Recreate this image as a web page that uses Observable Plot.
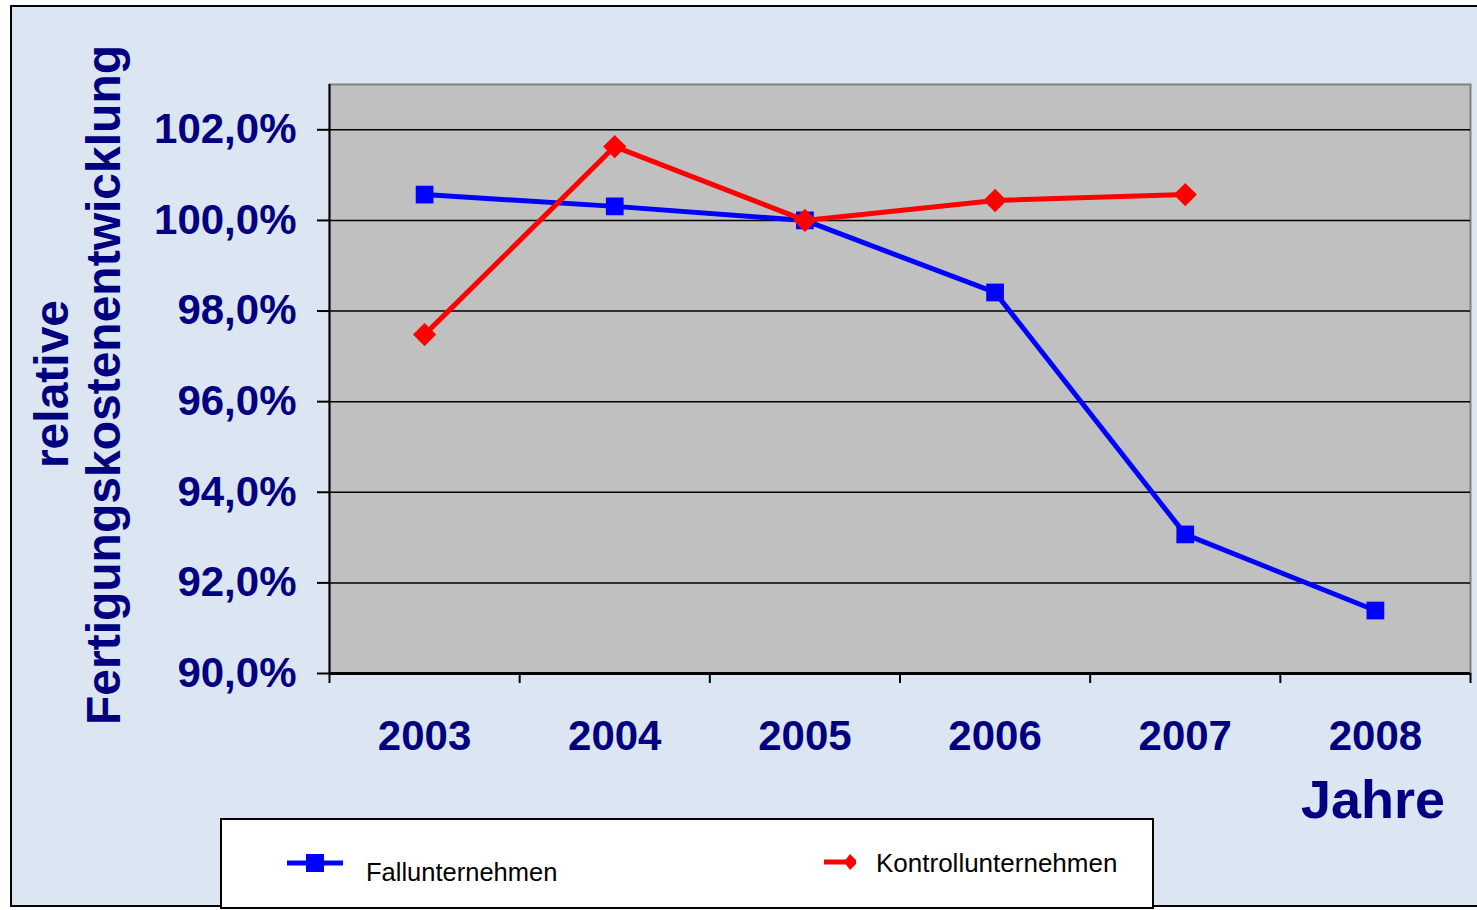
<!DOCTYPE html>
<html>
<head>
<meta charset="utf-8">
<script src="https://cdn.jsdelivr.net/npm/d3@7"></script>
<script src="https://cdn.jsdelivr.net/npm/@observablehq/plot@0.6"></script>
<style>
  html, body { margin: 0; padding: 0; background: #ffffff; }
  body { width: 1477px; height: 910px; position: relative; overflow: hidden; font-family: "Liberation Sans", Arial, sans-serif; }
  #outer { position: absolute; left: 10px; top: 5px; width: 1480px; height: 902px; background: #dce6f2; border: 2px solid #000; box-sizing: border-box; }
  #chart { position: absolute; left: 0; top: 0; }
  .ytitle { position: absolute; transform: translate(-50%, -50%) rotate(-90deg); white-space: nowrap; font-weight: bold; font-size: 48px; color: #000080; line-height: 1; }
  #jahre { position: absolute; right: 32px; top: 772px; font-weight: bold; font-size: 54px; color: #000080; line-height: 1; }
  #legend { position: absolute; left: 220px; top: 818px; width: 934px; height: 91px; background: #fff; border: 2px solid #000; box-sizing: border-box; }
  .lg { position: absolute; font-size: 25.5px; color: #000; white-space: nowrap; line-height: 1; }
</style>
</head>
<body>
<div id="outer"></div>
<div id="chart"></div>
<div class="ytitle" style="left:52px; top:384px;">relative</div>
<div class="ytitle" style="left:104px; top:385px;">Fertigungskostenentwicklung</div>
<div id="jahre">Jahre</div>
<div id="legend">
  <svg style="position:absolute;left:0;top:0" width="930" height="87">
    <line x1="65" x2="121" y1="43" y2="43" stroke="#0000ff" stroke-width="5"/>
    <rect x="84" y="34" width="18" height="18" fill="#0000ff"/>
    <line x1="602" x2="630" y1="42" y2="42" stroke="#ff0000" stroke-width="5"/>
    <path d="M628,34 L634,40 L634,44 L628,50 L622,42 Z" fill="#ff0000"/>
  </svg>
  <div class="lg" style="left:144px; top:40px;">Fallunternehmen</div>
  <div class="lg" style="left:654px; top:30px; font-size:26px;">Kontrollunternehmen</div>
</div>
<script>
const years = [2003, 2004, 2005, 2006, 2007, 2008];
const fallValues = [100.57, 100.31, 100.0, 98.41, 93.07, 91.39];
const kontrollYears = [2003, 2004, 2005, 2006, 2007];
const kontrollValues = [97.48, 101.63, 100.0, 100.44, 100.57];
const yTicks = [90, 92, 94, 96, 98, 100, 102];
const yDomain = [90, 103];
const xDomain = [2002.5, 2008.5];
const xBoundaries = [2002.5, 2003.5, 2004.5, 2005.5, 2006.5, 2007.5, 2008.5];

const fall = years.map((y, i) => ({year: y, value: fallValues[i]}));
const kontroll = kontrollYears.map((y, i) => ({year: y, value: kontrollValues[i]}));

const navy = "#000080";
const fmt = d => d.toFixed(1).replace(".", ",") + "%";

const chart = Plot.plot({
  width: 1477,
  height: 910,
  marginLeft: 329,
  marginRight: 7,
  marginTop: 84,
  marginBottom: 237,
  style: {background: "transparent", fontFamily: "'Liberation Sans', Arial, sans-serif"},
  x: {domain: xDomain},
  y: {domain: yDomain},
  marks: [
    Plot.frame({fill: "#c0c0c0", stroke: "#808080", strokeWidth: 2}),
    Plot.gridY({ticks: yTicks, stroke: "#000", strokeOpacity: 1, strokeWidth: 1.5}),
    Plot.ruleX([xDomain[0]], {stroke: "#000", strokeWidth: 2}),
    Plot.ruleY([yDomain[0]], {stroke: "#000", strokeWidth: 3}),
    Plot.axisY({ticks: yTicks, tickSize: 12, tickPadding: 21, tickFormat: fmt, fontSize: 42, fontWeight: "bold", fill: navy, stroke: "#000", strokeWidth: 2, label: null}),
    Plot.axisX({ticks: xBoundaries, tickSize: 10, tickFormat: () => "", stroke: "#000", strokeWidth: 2, label: null}),
    Plot.axisX({ticks: years, tickSize: 0, tickPadding: 47, tickFormat: d => String(d), fontSize: 42, fontWeight: "bold", fill: navy, label: null}),
    Plot.line(fall, {x: "year", y: "value", stroke: "#0000ff", strokeWidth: 5}),
    Plot.dot(fall, {x: "year", y: "value", symbol: "square", r: 10, fill: "#0000ff"}),
    Plot.line(kontroll, {x: "year", y: "value", stroke: "#ff0000", strokeWidth: 5}),
    Plot.dot(kontroll, {x: "year", y: "value", symbol: "diamond2", r: 10.5, fill: "#ff0000"})
  ]
});
document.getElementById("chart").appendChild(chart);
</script>
</body>
</html>
